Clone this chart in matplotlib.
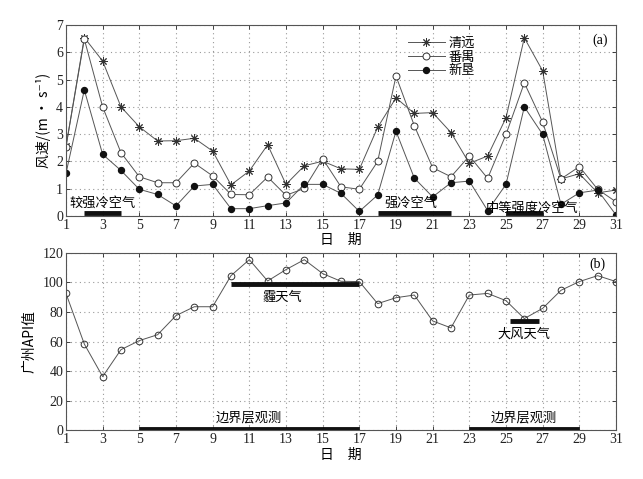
import matplotlib
matplotlib.use("Agg")
import matplotlib.pyplot as plt
import numpy as np

plt.rcParams['font.family'] = ['Liberation Serif', 'Noto Sans CJK SC', 'DejaVu Sans']
plt.rcParams['axes.unicode_minus'] = False

days = list(range(1, 32))
qingyuan = [2.55, 6.54, 5.68, 4.0, 3.27, 2.75, 2.76, 2.85, 2.38, 1.14, 1.65, 2.61, 1.16, 1.84, 2.01,
            1.73, 1.71, 3.25, 4.33, 3.76, 3.79, 3.06, 1.93, 2.2, 3.6, 6.53, 5.32, 1.36, 1.55, 0.85, 0.95]
panyu = [2.54, 6.48, 4.0, 2.32, 1.44, 1.22, 1.22, 1.94, 1.47, 0.79, 0.78, 1.43, 0.76, 1.01, 2.1,
         1.07, 0.98, 2.0, 5.13, 3.31, 1.77, 1.44, 2.2, 1.38, 2.99, 4.88, 3.44, 1.36, 1.81, 0.98, 0.52]
xinken = [1.56, 4.62, 2.26, 1.67, 0.98, 0.79, 0.37, 1.1, 1.16, 0.27, 0.27, 0.38, 0.48, 1.16, 1.16,
          0.83, 0.17, 0.77, 3.11, 1.39, 0.70, 1.22, 1.28, 0.2, 1.16, 4.0, 2.99, 0.43, 0.85, 0.95, 0.04]
api = [92.5, 58.3, 36.3, 54.5, 60.6, 64.6, 77.5, 83.5, 83.5, 104.5, 115.3, 100.9, 108.6, 115.3, 105.9,
       100.7, 100.5, 85.6, 89.6, 91.4, 73.9, 69.2, 91.4, 92.5, 87.6, 75.5, 82.4, 94.6, 100.5, 104.5, 100.5]

# event bars: (start, end, y, label, text_x, text_y)
events_a = [(2, 4, 0.1, '较强冷空气', 3.0, 0.45),
            (18, 22, 0.1, '强冷空气', 19.8, 0.45),
            (25, 27, 0.1, '中等强度冷空气', 26.4, 0.3)]
events_b = [(10, 17, 99, '霾天气', 12.8, 90),
            (25.2, 26.8, 74, '大风天气', 26.0, 65),
            (5, 17, 1.2, '边界层观测', 11.0, 8),
            (23, 29, 1.2, '边界层观测', 26.0, 8)]

xticks = list(range(1, 32, 2))
lc = '#555555'
cjk = ['Noto Sans CJK SC', 'Liberation Serif', 'DejaVu Sans']

fig = plt.figure(figsize=(6.43, 4.79), dpi=100)
ax1 = fig.add_axes([0.1026, 0.549, 0.8554, 0.3988])
ax2 = fig.add_axes([0.1026, 0.1017, 0.8554, 0.3707])

for ax in (ax1, ax2):
    ax.set_xlim(1, 31)
    ax.set_xticks(xticks)
    ax.grid(True, linestyle=(0, (1, 3)), color='#999999', linewidth=0.8)
    ax.tick_params(direction='in', top=True, right=True, labelsize=10, length=3, width=0.6, colors='#222222', pad=2)
    for s in ax.spines.values():
        s.set_linewidth(0.8)
        s.set_color('#555555')

ax1.plot(days, qingyuan, color=lc, lw=0.7, marker=(8, 2, 0), ms=6, mew=0.7, mec='#333333', label='清远')
ax1.plot(days, panyu, color=lc, lw=0.7, marker='o', ms=5, mfc='white', mec='#333333', mew=0.7, label='番禺')
ax1.plot(days, xinken, color=lc, lw=0.7, marker='o', ms=4.3, mfc='#111111', mec='#111111', label='新垦')
ax1.set_ylim(0, 7)
ax1.set_yticks(range(0, 8))
ax1.set_ylabel('风速/(m · s⁻¹)', fontsize=10, labelpad=4, family=cjk)
ax1.set_xlabel('日　期', fontsize=10, labelpad=1, family=cjk)
leg = ax1.legend(loc='upper left', bbox_to_anchor=(0.605, 0.985), frameon=False, fontsize=9.5,
                 handlelength=2.8, handletextpad=0.3, labelspacing=0.05, borderpad=0.2,
                 prop={'family': cjk, 'size': 9.5})
ax1.text(0.985, 0.955, '(a)', transform=ax1.transAxes, ha='right', va='top', fontsize=10)
for s, e, y, lab, tx, ty in events_a:
    ax1.plot([s, e], [y, y], color='#111111', lw=3.5, solid_capstyle='butt')
    ax1.text(tx, ty, lab, ha='center', va='center', fontsize=9.5, family=cjk)

ax2.plot(days, api, color=lc, lw=0.7, marker='o', ms=4.8, mfc='none', mec='#333333', mew=0.7)
ax2.set_ylim(0, 120)
ax2.set_yticks(range(0, 121, 20))
ax2.set_ylabel('广州API值', fontsize=10, labelpad=4, family=cjk)
ax2.set_xlabel('日　期', fontsize=10, labelpad=1, family=cjk)
ax2.text(30.0, 112.5, '(b)', ha='center', va='center', fontsize=10)
for s, e, y, lab, tx, ty in events_b:
    ax2.plot([s, e], [y, y], color='#111111', lw=3.5, solid_capstyle='butt')
    ax2.text(tx, ty, lab, ha='center', va='center', fontsize=9.5, family=cjk)

fig.savefig('out.png', dpi=100)
